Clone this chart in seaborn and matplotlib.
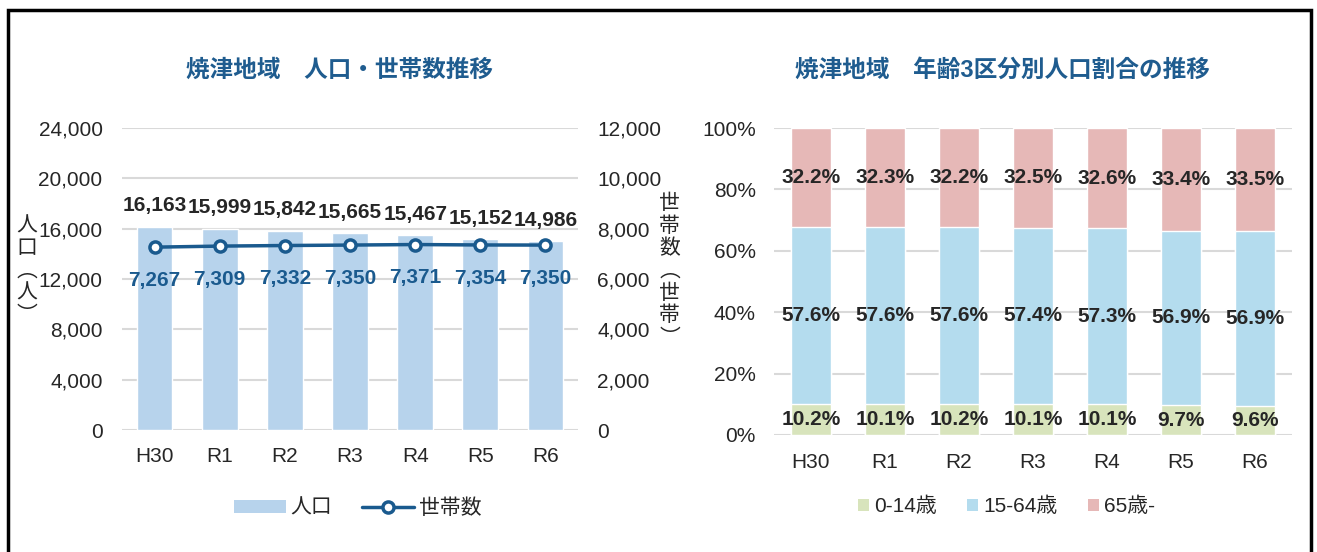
import matplotlib
matplotlib.use("Agg")
import matplotlib.pyplot as plt
from matplotlib.patches import Rectangle, Patch
from matplotlib.lines import Line2D
from matplotlib.ticker import FuncFormatter
import seaborn as sns
import pandas as pd

years = ["H30", "R1", "R2", "R3", "R4", "R5", "R6"]
population = [16163, 15999, 15842, 15665, 15467, 15152, 14986]
households = [7267, 7309, 7332, 7350, 7371, 7354, 7350]

age_0_14 = [10.2, 10.1, 10.2, 10.1, 10.1, 9.7, 9.6]
age_15_64 = [57.6, 57.6, 57.6, 57.4, 57.3, 56.9, 56.9]
age_65 = [32.2, 32.3, 32.2, 32.5, 32.6, 33.4, 33.5]

sns.set_style("white")
plt.rcParams["font.family"] = ["Liberation Sans", "Noto Sans CJK JP"]

title_col = "#1F5C8F"
bar_col = "#B7D3EC"
line_col = "#1A5A8E"
grid_col = "#D9D9D9"
c_young = "#D8E4BC"
c_mid = "#B4DCEE"
c_old = "#E6B8B7"

fig = plt.figure(figsize=(13.17, 5.52), dpi=100)

# ---- left chart ----
ax = fig.add_axes([0.0926, 0.221, 0.3463, 0.547])
df = pd.DataFrame({"year": years, "pop": population, "hh": households})
sns.barplot(data=df, x="year", y="pop", color=bar_col, width=0.55,
            saturation=1, ax=ax, zorder=2)
ax.set_ylim(0, 24000)
ax.set_yticks(range(0, 24001, 4000))
ax.yaxis.set_major_formatter(FuncFormatter(lambda v, p: f"{int(v):,}"))
ax.grid(axis="y", color=grid_col, lw=1.5, zorder=0)
ax.set_axisbelow(True)
ax.set_xlim(-0.5, 6.5)
for i, v in enumerate(population):
    ax.annotate(f"{v:,}", (i, v), xytext=(0, 15), textcoords="offset points",
                ha="center", va="center", fontsize=15, fontweight="bold")

ax2 = ax.twinx()
sns.pointplot(data=df, x="year", y="hh", color=line_col, ax=ax2,
              markers="o", markersize=8, markerfacecolor="white",
              markeredgewidth=2.5, linewidth=2.5, zorder=3)
ax2.set_ylim(0, 12000)
ax2.set_yticks(range(0, 12001, 2000))
ax2.yaxis.set_major_formatter(FuncFormatter(lambda v, p: f"{int(v):,}"))
ax2.set_xlim(-0.5, 6.5)
for i, v in enumerate(households):
    ax2.annotate(f"{v:,}", (i, v), xytext=(0, -24), textcoords="offset points",
                 ha="center", va="center", fontsize=15, fontweight="bold",
                 color=line_col)

for a in (ax, ax2):
    sns.despine(ax=a, left=True, right=True, top=True, bottom=True)
    a.tick_params(axis="both", length=0, labelsize=15)
    a.set_xlabel("")
    a.set_ylabel("")
ax.tick_params(axis="x", pad=12)
ax.tick_params(axis="y", pad=14)
ax2.tick_params(axis="y", pad=14)

cjk = ["Noto Sans CJK JP"]
fig.text(0.0205, 0.51, "人\n口\n︵\n人\n︶", ha="center", va="center",
         fontsize=15, linespacing=1.02, family=cjk)
fig.text(0.5085, 0.51, "世\n帯\n数\n︵\n世\n帯\n︶", ha="center", va="center",
         fontsize=15, linespacing=1.02, family=cjk)
fig.text(0.258, 0.872, "焼津地域　人口・世帯数推移", ha="center", va="center",
         fontsize=17, fontweight="bold", color=title_col)

h1 = Patch(facecolor=bar_col, edgecolor="none")
h2 = Line2D([], [], color=line_col, lw=2.5, marker="o", markersize=8,
            markerfacecolor="white", markeredgewidth=2.5)
fig.legend([h1, h2], ["人口", "世帯数"], loc="center", bbox_to_anchor=(0.2715, 0.08),
           ncol=2, frameon=False, fontsize=15, handlelength=2.5,
           handleheight=0.55, columnspacing=1.4, handletextpad=0.25)

# ---- right chart ----
bx = fig.add_axes([0.5877, 0.212, 0.3933, 0.556])
tot = [a + b + c for a, b, c in zip(age_0_14, age_15_64, age_65)]
low2 = [a + b for a, b in zip(age_0_14, age_15_64)]
rdf = pd.DataFrame({"year": years, "tot": tot, "low2": low2, "young": age_0_14})
sns.barplot(data=rdf, x="year", y="tot", color=c_old, width=0.55,
            saturation=1, ax=bx)
sns.barplot(data=rdf, x="year", y="low2", color=c_mid, width=0.55,
            saturation=1, ax=bx)
sns.barplot(data=rdf, x="year", y="young", color=c_young, width=0.55,
            saturation=1, ax=bx)
bx.set_ylim(0, 100)
bx.set_xlim(-0.5, 6.5)
bx.set_yticks(range(0, 101, 20))
bx.yaxis.set_major_formatter(FuncFormatter(lambda v, p: f"{int(v)}%"))
bx.grid(axis="y", color=grid_col, lw=1.5, zorder=0)
bx.set_axisbelow(True)
sns.despine(ax=bx, left=True, right=True, top=True, bottom=True)
bx.tick_params(axis="both", length=0, labelsize=15)
bx.tick_params(axis="x", pad=13)
bx.tick_params(axis="y", pad=13)
bx.set_xlabel("")
bx.set_ylabel("")
for i in range(len(years)):
    y0 = age_0_14[i]
    y1 = y0 + age_15_64[i]
    bx.text(i, y0 / 2, f"{age_0_14[i]}%", ha="center", va="center",
            fontsize=15, fontweight="bold")
    bx.text(i, y0 + age_15_64[i] / 2, f"{age_15_64[i]}%", ha="center",
            va="center", fontsize=15, fontweight="bold")
    bx.text(i, y1 + age_65[i] / 2, f"{age_65[i]}%", ha="center", va="center",
            fontsize=15, fontweight="bold")

fig.text(0.7615, 0.872, "焼津地域　年齢3区分別人口割合の推移", ha="center",
         va="center", fontsize=17, fontweight="bold", color=title_col)
hs = [Patch(facecolor=c, edgecolor="none") for c in (c_young, c_mid, c_old)]
fig.legend(hs, ["0-14歳", "15-64歳", "65歳-"], loc="center",
           bbox_to_anchor=(0.764, 0.082), ncol=3, frameon=False, fontsize=15,
           handlelength=0.53, handleheight=0.53, columnspacing=1.45,
           handletextpad=0.25)

# outer border
fig.add_artist(Rectangle((8 / 1317, -0.05), 1303 / 1317, 1.05 - 10 / 552,
                         transform=fig.transFigure, fill=False, lw=2.5,
                         edgecolor="black"))

fig.savefig("out.png", dpi=100)
